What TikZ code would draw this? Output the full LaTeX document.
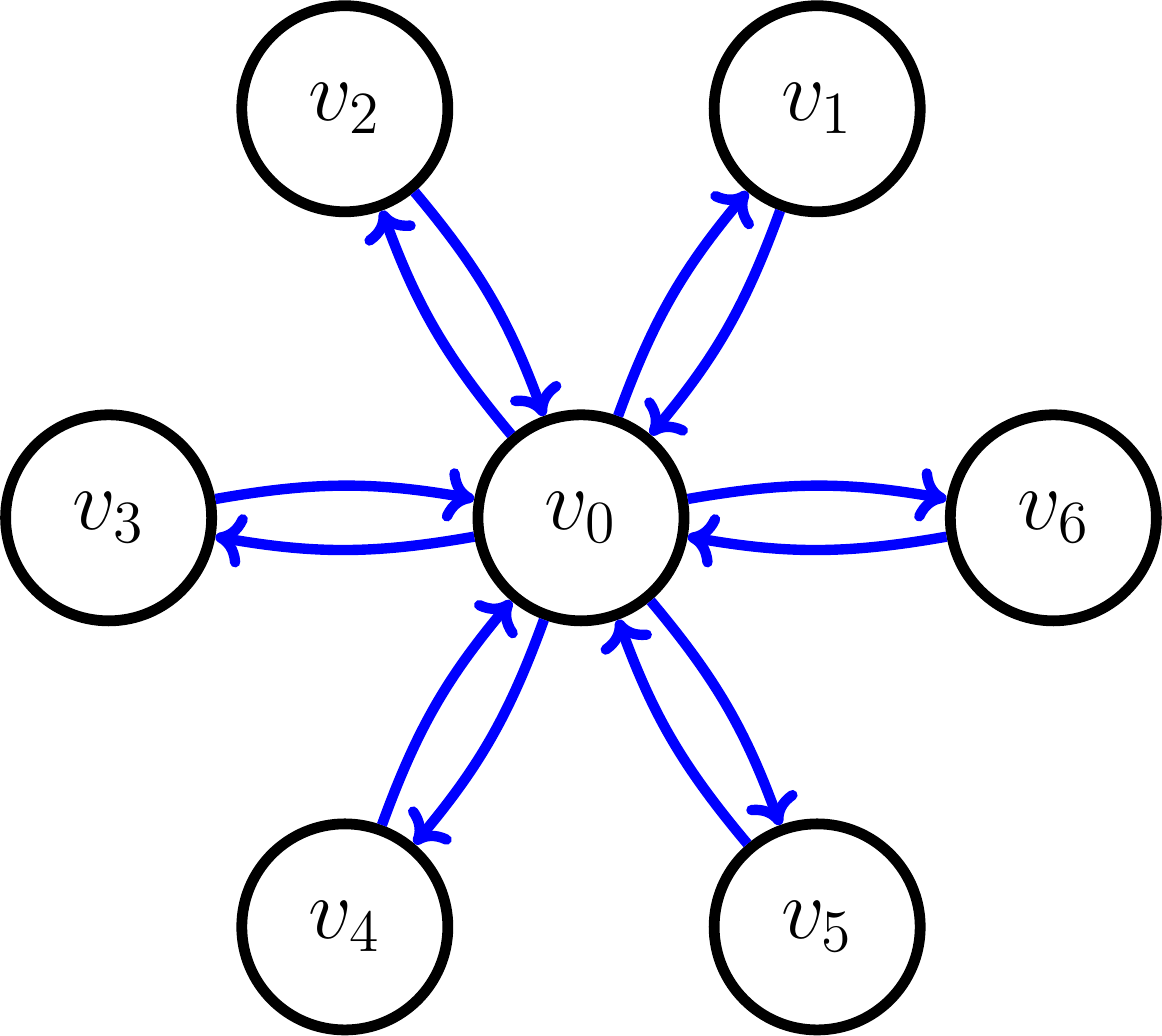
\documentclass[tikz,border=0pt]{standalone}
\usetikzlibrary{arrows.meta}
\begin{document}
\begin{tikzpicture}[
  vertex/.style={circle,draw=black,line width=2.6pt,minimum size=1.745cm,inner sep=0pt,font=\huge},
  edge/.style={draw=blue,line width=2.5pt,-{Computer Modern Rightarrow[length=7pt,width=13pt]},bend left=10}
]
\useasboundingbox (-4.92,-4.385) rectangle (4.92,4.385);
\node[vertex] (v0) at (0,0) {$v_0$};
\node[vertex] (v1) at (60:4) {$v_1$};
\node[vertex] (v2) at (120:4) {$v_2$};
\node[vertex] (v3) at (180:4) {$v_3$};
\node[vertex] (v4) at (240:4) {$v_4$};
\node[vertex] (v5) at (300:4) {$v_5$};
\node[vertex] (v6) at (0:4) {$v_6$};
\foreach \i in {1,...,6}{
  \draw[edge] (v0) to (v\i);
  \draw[edge] (v\i) to (v0);
}
\end{tikzpicture}
\end{document}
